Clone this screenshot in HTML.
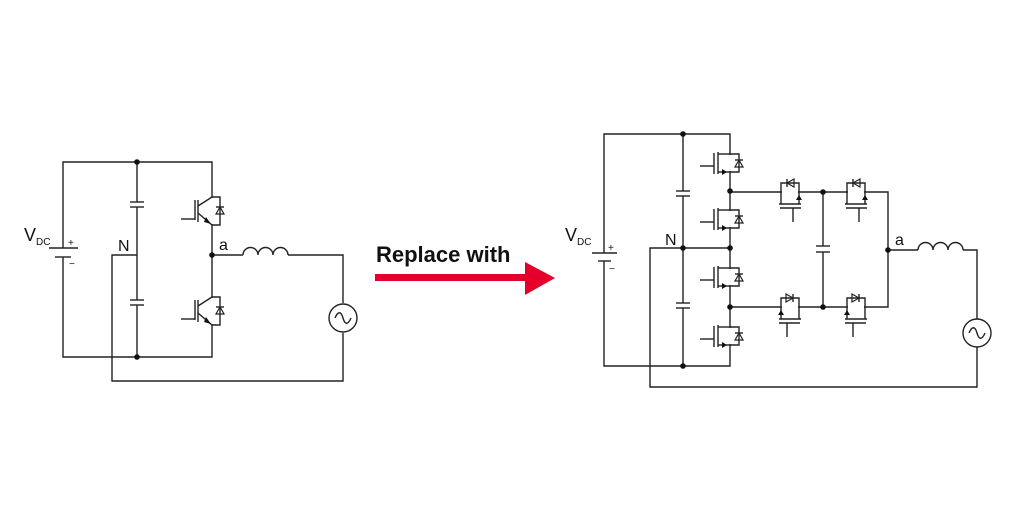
<!DOCTYPE html>
<html><head><meta charset="utf-8"><style>
html,body{margin:0;padding:0;background:#fff;}
svg{display:block;}
text{font-family:"Liberation Sans","DejaVu Sans",sans-serif;fill:#111;}
</style></head><body>
<svg width="1024" height="522" viewBox="0 0 1024 522" xmlns="http://www.w3.org/2000/svg">
<defs>
<g id="mos">
  <line x1="0" y1="-8" x2="0" y2="8" stroke="#fff" stroke-width="4"/>
  <g stroke="#222" stroke-width="1.4" fill="none">
    <polyline points="0,-9 -12,-9"/>
    <polyline points="0,9 -12,9"/>
    <line x1="-12" y1="-11" x2="-12" y2="11"/>
    <line x1="-16" y1="-10" x2="-16" y2="11"/>
    <line x1="-30" y1="3" x2="-16" y2="3"/>
    <polyline points="0,-9 9,-9 9,9 0,9"/>
    <line x1="5" y1="-3" x2="13" y2="-3"/>
  </g>
  <polygon points="-8,6 -8,12 -3,9" fill="#111"/>
  <polygon points="9,-3 5,4 13,4" fill="none" stroke="#222" stroke-width="1.2"/>
</g>
<g id="igbt">
  <line x1="0" y1="-13" x2="0" y2="13" stroke="#fff" stroke-width="4"/>
  <g stroke="#222" stroke-width="1.4" fill="none">
    <line x1="-14" y1="-11" x2="-14" y2="11"/>
    <line x1="-17" y1="-11" x2="-17" y2="9"/>
    <line x1="-31" y1="8" x2="-17" y2="8"/>
    <line x1="-14" y1="-5" x2="0" y2="-14"/>
    <line x1="-14" y1="2" x2="0" y2="14"/>
    <polyline points="0,-14 8,-14 8,14 0,14"/>
    <line x1="4" y1="-4" x2="12" y2="-4"/>
  </g>
  <polygon points="-6,6 -1,13 -8,11" fill="#111"/>
  <polygon points="8,-4 4,3 12,3" fill="none" stroke="#222" stroke-width="1.2"/>
</g>
</defs>

<!-- LEFT CIRCUIT -->
<g stroke="#222" stroke-width="1.4" fill="none">
  <polyline points="63,248 63,162 212,162 212,357 63,357 63,257"/>
  <line x1="49" y1="248" x2="78" y2="248"/>
  <line x1="55" y1="257" x2="71" y2="257"/>
  <line x1="137" y1="162" x2="137" y2="202"/>
  <line x1="137" y1="207" x2="137" y2="300"/>
  <line x1="137" y1="305" x2="137" y2="357"/>
  <line x1="130" y1="202" x2="144" y2="202"/>
  <line x1="130" y1="207" x2="144" y2="207"/>
  <line x1="130" y1="300" x2="144" y2="300"/>
  <line x1="130" y1="305" x2="144" y2="305"/>
  <polyline points="137,255 112,255 112,381 343,381 343,333"/>
  <polyline points="212,255 243,255"/>
  <path d="M243,255 a7.5,7.5 0 0 1 15,0 a7.5,7.5 0 0 1 15,0 a7.5,7.5 0 0 1 15,0"/>
  <polyline points="288,255 343,255 343,303"/>
  <circle cx="343" cy="318" r="14"/>
  <path d="M335,318 c3,-7 6,-7 8,0 s5,7 8,0"/>
</g>
<use href="#igbt" x="212" y="211"/>
<use href="#igbt" x="212" y="311"/>
<g fill="#111">
  <circle cx="137" cy="162" r="2.8"/><circle cx="137" cy="357" r="2.8"/>
  <circle cx="212" cy="255" r="2.8"/>
</g>
<text x="24" y="241" font-size="18">V</text>
<text x="36" y="245" font-size="10">DC</text>
<text x="68" y="246" font-size="10">+</text>
<text x="69" y="267" font-size="10">−</text>
<text x="118" y="251" font-size="16">N</text>
<text x="219" y="250" font-size="16">a</text>

<!-- ARROW -->
<text x="376" y="262" font-size="22" font-weight="bold">Replace with</text>
<rect x="375" y="274" width="152" height="7" fill="#e4002b"/>
<polygon points="525,262 555,278 525,295" fill="#e4002b"/>

<!-- RIGHT CIRCUIT -->
<g stroke="#222" stroke-width="1.4" fill="none">
  <polyline points="604,253 604,134 730,134 730,366 604,366 604,261"/>
  <line x1="592" y1="253" x2="617" y2="253"/>
  <line x1="598" y1="261" x2="611" y2="261"/>
  <line x1="683" y1="134" x2="683" y2="191"/>
  <line x1="683" y1="196" x2="683" y2="303"/>
  <line x1="683" y1="308" x2="683" y2="366"/>
  <line x1="676" y1="191" x2="690" y2="191"/>
  <line x1="676" y1="196" x2="690" y2="196"/>
  <line x1="676" y1="303" x2="690" y2="303"/>
  <line x1="676" y1="308" x2="690" y2="308"/>
  <polyline points="730,248 650,248 650,387 977,387 977,347"/>
  <polyline points="730,192 888,192 888,307 730,307"/>
  <line x1="823" y1="192" x2="823" y2="246"/>
  <line x1="823" y1="252" x2="823" y2="307"/>
  <line x1="816" y1="246" x2="830" y2="246"/>
  <line x1="816" y1="252" x2="830" y2="252"/>
  <polyline points="888,250 918,250"/>
  <path d="M918,250 a7.5,7.5 0 0 1 15,0 a7.5,7.5 0 0 1 15,0 a7.5,7.5 0 0 1 15,0"/>
  <polyline points="963,250 977,250 977,319"/>
  <circle cx="977" cy="333" r="14"/>
  <path d="M969,333 c3,-7 6,-7 8,0 s5,7 8,0"/>
</g>
<use href="#mos" x="730" y="163"/>
<use href="#mos" x="730" y="219"/>
<use href="#mos" x="730" y="277"/>
<use href="#mos" x="730" y="336"/>
<use href="#mos" transform="translate(790,192) rotate(-90)"/>
<use href="#mos" transform="translate(856,192) rotate(-90)"/>
<use href="#mos" transform="translate(790,307) scale(-1,1) rotate(-90)"/>
<use href="#mos" transform="translate(856,307) scale(-1,1) rotate(-90)"/>
<g fill="#111">
  <circle cx="683" cy="134" r="2.8"/><circle cx="683" cy="366" r="2.8"/>
  <circle cx="683" cy="248" r="2.8"/><circle cx="730" cy="248" r="2.8"/>
  <circle cx="730" cy="191" r="2.8"/><circle cx="730" cy="307" r="2.8"/>
  <circle cx="823" cy="192" r="2.8"/><circle cx="823" cy="307" r="2.8"/>
  <circle cx="888" cy="250" r="2.8"/>
</g>
<text x="565" y="241" font-size="18">V</text>
<text x="577" y="245" font-size="10">DC</text>
<text x="608" y="251" font-size="10">+</text>
<text x="609" y="272" font-size="10">−</text>
<text x="665" y="245" font-size="16">N</text>
<text x="895" y="245" font-size="16">a</text>
</svg>
</body></html>
